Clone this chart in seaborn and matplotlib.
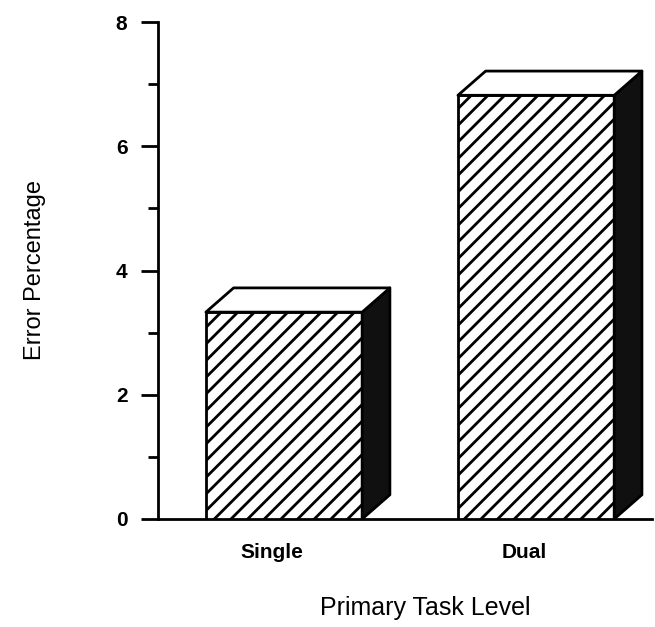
import matplotlib
matplotlib.use("Agg")
import matplotlib.pyplot as plt
import matplotlib.transforms as mtransforms
import seaborn as sns
import pandas as pd
from matplotlib.patches import Polygon
from matplotlib.ticker import MultipleLocator

categories = ["Single", "Dual"]
error_pct = [3.33, 6.82]

sns.set_style("white")
plt.rcParams['font.family'] = ['Liberation Sans', 'DejaVu Sans']
plt.rcParams['hatch.linewidth'] = 2.0
plt.rcParams['hatch.color'] = 'black'
plt.rcParams['text.color'] = 'black'
plt.rcParams['axes.labelcolor'] = 'black'
plt.rcParams['xtick.color'] = 'black'
plt.rcParams['ytick.color'] = 'black'

df = pd.DataFrame({"level": categories, "err": error_pct})

fig = plt.figure(figsize=(6.55, 6.27), dpi=100)
ax = fig.add_axes([158/655, 1-519/627, (652-158)/655, (519-22)/627])

sns.barplot(data=df, x="level", y="err", ax=ax, color="white", width=0.62,
            edgecolor="black", linewidth=2, hatch="//", errorbar=None, zorder=3)

dx, dy = 0.11, 0.39
for p in ax.patches[:]:
    x0, y0 = p.get_x(), p.get_y()
    w, h = p.get_width(), p.get_height()
    top = Polygon([(x0, y0+h), (x0+dx, y0+h+dy), (x0+w+dx, y0+h+dy), (x0+w, y0+h)],
                  closed=True, facecolor="white", edgecolor="black", linewidth=2,
                  joinstyle="round", zorder=4)
    side = Polygon([(x0+w, y0), (x0+w, y0+h), (x0+w+dx, y0+h+dy), (x0+w+dx, y0+dy)],
                   closed=True, facecolor="#101010", edgecolor="black", linewidth=2,
                   joinstyle="round", zorder=4)
    ax.add_patch(side)
    ax.add_patch(top)

ax.set_xlim(-0.5, 1.46)
ax.set_ylim(0, 8)
ax.yaxis.set_major_locator(MultipleLocator(2))
ax.yaxis.set_minor_locator(MultipleLocator(1))
for s in ["top", "right"]:
    ax.spines[s].set_visible(False)
for s in ["left", "bottom"]:
    ax.spines[s].set_linewidth(2)
    ax.spines[s].set_color("black")
ax.tick_params(axis="y", which="major", direction="out", length=12, width=2,
               left=True, labelsize=15, pad=10)
ax.tick_params(axis="y", which="minor", direction="out", length=7, width=2, left=True)
ax.tick_params(axis="x", length=0, labelsize=15, pad=17)
for t in ax.get_yticklabels() + ax.get_xticklabels():
    t.set_fontweight("bold")
shift = mtransforms.ScaledTranslation(-12/100, 0, fig.dpi_scale_trans)
for t in ax.get_xticklabels():
    t.set_transform(t.get_transform() + shift)

ax.set_ylabel("Error Percentage", fontsize=17)
ax.yaxis.set_label_coords(-0.227, 0.5)
ax.set_xlabel("Primary Task Level", fontsize=18)
ax.xaxis.set_label_coords(0.54, -0.155)

fig.savefig("out.png", dpi=100)
